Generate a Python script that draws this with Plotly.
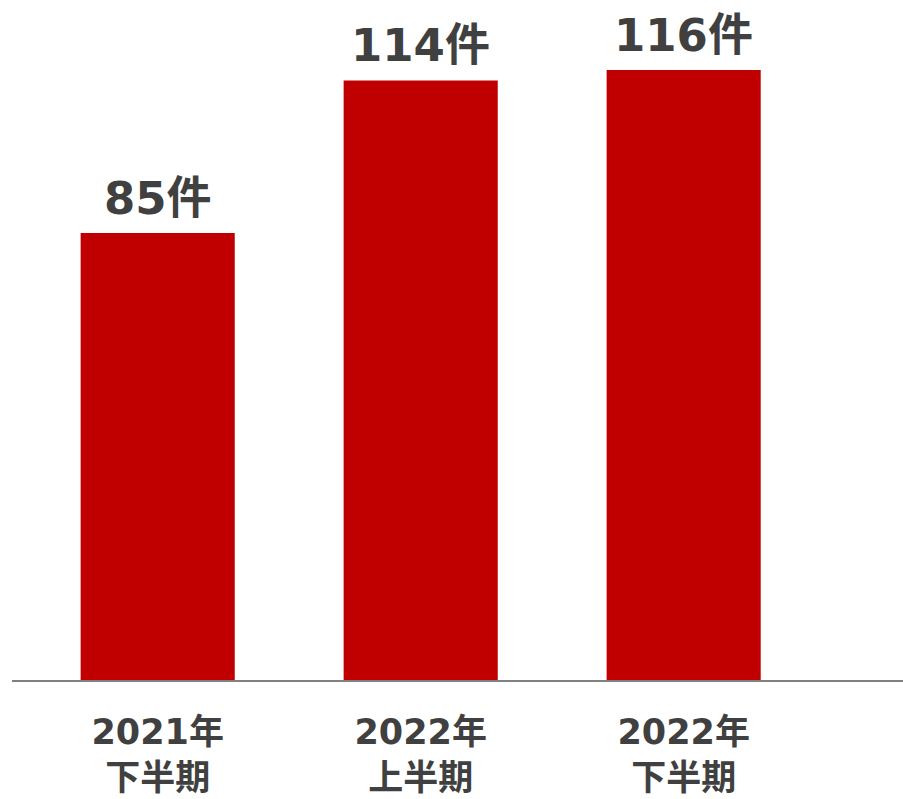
import plotly.graph_objects as go

categories = ["2021年<br>下半期", "2022年<br>上半期", "2022年<br>下半期"]
values = [85, 114, 116]
labels = ["85件", "114件", "116件"]

FONT = "DejaVu Sans, Noto Sans CJK JP, sans-serif"
TXT = "#404040"

fig = go.Figure()
fig.add_trace(go.Bar(
    x=categories, y=values, width=0.586,
    marker=dict(color="#C00000", line=dict(width=0)),
    hoverinfo="skip",
))

for c, v, t in zip(categories, values, labels):
    fig.add_annotation(
        x=c, y=v, text="<b>%s</b>" % t, showarrow=False,
        yanchor="bottom", yshift=6,
        font=dict(family=FONT, size=45, color=TXT),
    )

fig.update_layout(
    width=903, height=799,
    margin=dict(l=12, r=0, t=0, b=119, autoexpand=False),
    paper_bgcolor="white", plot_bgcolor="white",
    showlegend=False,
    font=dict(family=FONT, color=TXT),
)
fig.update_xaxes(
    type="category", range=[-0.554, 2.834], automargin=False,
    showline=True, linecolor="#808080", linewidth=2,
    showgrid=False, zeroline=False,
    ticks="outside", ticklen=20, tickcolor="rgba(0,0,0,0)",
    tickfont=dict(family=FONT, size=35, color=TXT),
    tickprefix="<b>", ticksuffix="</b>",
)
fig.update_yaxes(
    range=[0, 129.3], visible=False, showgrid=False, zeroline=False,
    automargin=False,
)

fig.write_html("out.html")
